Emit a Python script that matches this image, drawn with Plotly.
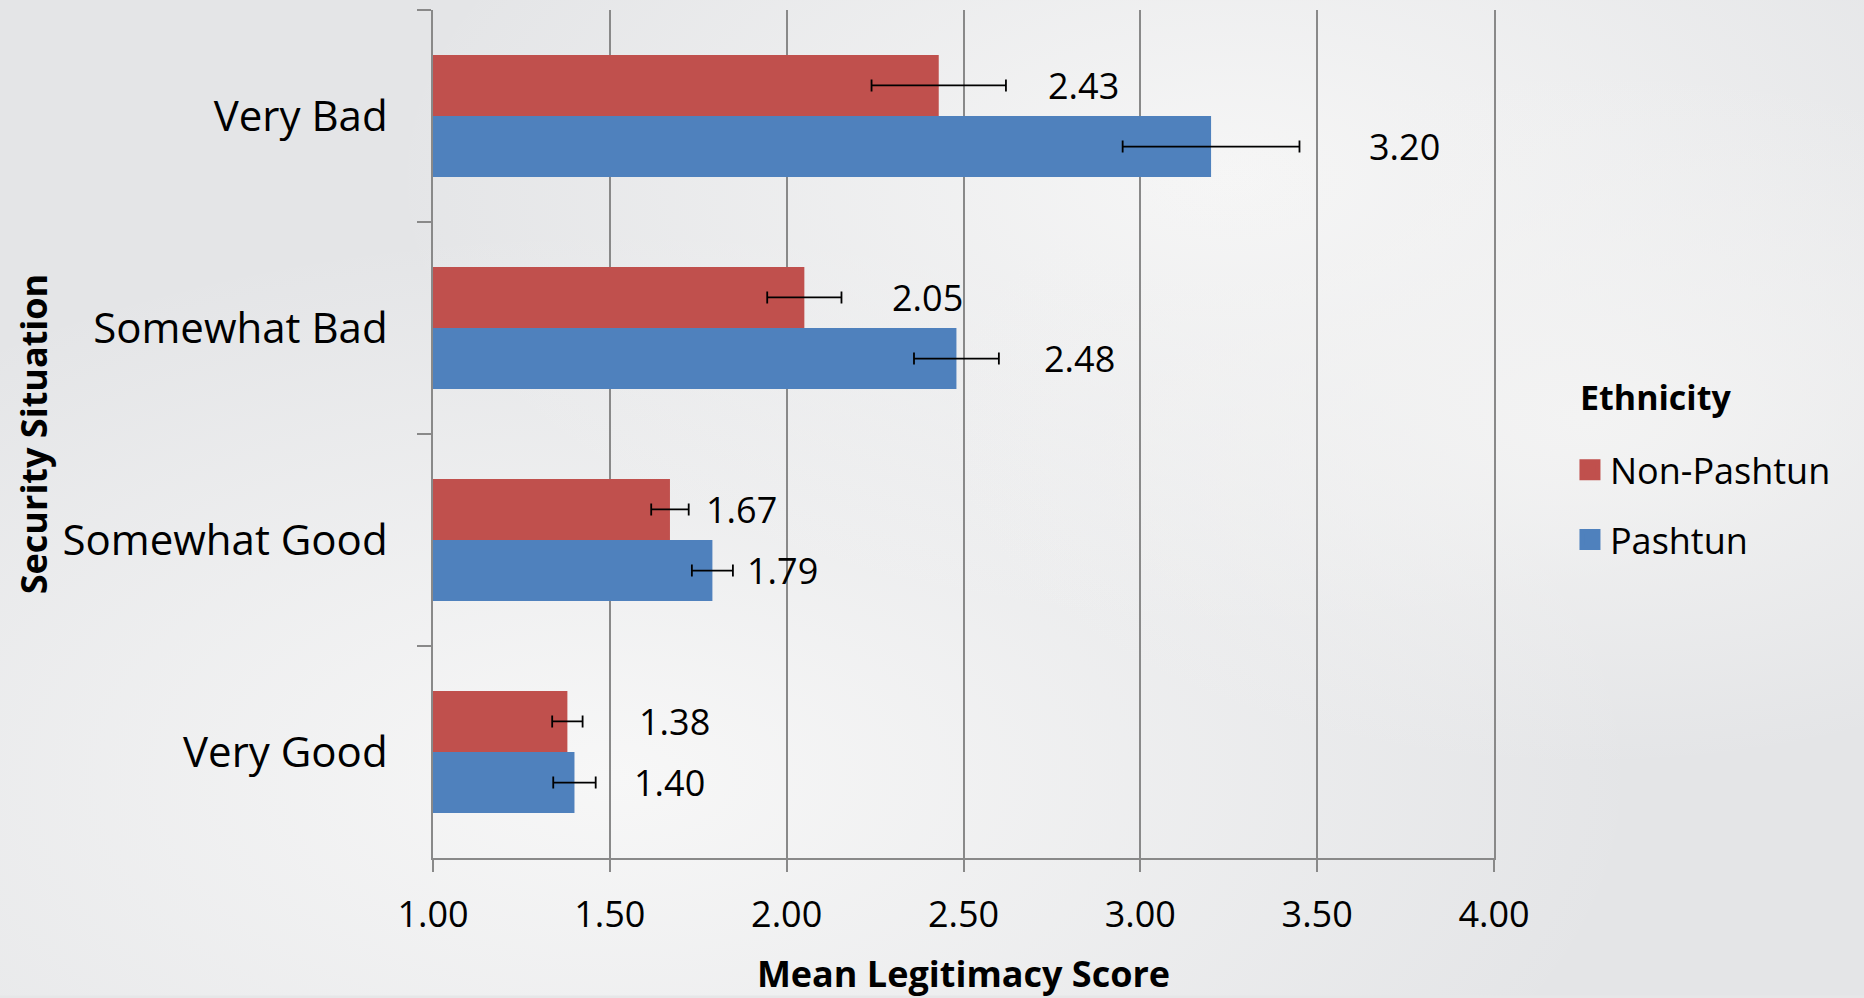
import base64
import plotly.graph_objects as go

# ---------------- data ----------------
categories = ["Very Bad", "Somewhat Bad", "Somewhat Good", "Very Good"]
series_names = ["Non-Pashtun", "Pashtun"]
non_pashtun = [2.43, 2.05, 1.67, 1.38]
pashtun = [3.20, 2.48, 1.79, 1.40]
non_pashtun_err = [0.19, 0.105, 0.053, 0.043]
pashtun_err = [0.25, 0.12, 0.058, 0.06]
x_ticks = [1.0, 1.5, 2.0, 2.5, 3.0, 3.5, 4.0]

# ---------------- style ----------------
W, H = 1864, 998
M = dict(l=433, r=370, t=10, b=138)
FONT = "Open Sans"
RED = "#C0504D"
BLUE = "#4F81BD"
AXIS = "#898989"
BARGAP = 0.424
# per-label horizontal nudges (px) to the right of the error-bar end
label_nudge = {
    "Non-Pashtun": [40, 49, 15, 54],
    "Pashtun": [68, 43, 12, 36],
}

pw = W - M["l"] - M["r"]
ph = H - M["t"] - M["b"]

svg = f"""<svg xmlns='http://www.w3.org/2000/svg' width='{W}' height='{H}' viewBox='0 0 {W} {H}' preserveAspectRatio='none'>
<defs>
<radialGradient id='g1' cx='0.33' cy='0.78' r='0.55' gradientUnits='objectBoundingBox'>
<stop offset='0' stop-color='#f7f7f7'/><stop offset='1' stop-color='#f7f7f7' stop-opacity='0'/>
</radialGradient>
<radialGradient id='g2' cx='0.66' cy='0.18' r='0.45' gradientUnits='objectBoundingBox'>
<stop offset='0' stop-color='#f6f6f6'/><stop offset='1' stop-color='#f6f6f6' stop-opacity='0'/>
</radialGradient>
<radialGradient id='g3' cx='0.85' cy='0.42' r='0.35' gradientUnits='objectBoundingBox'>
<stop offset='0' stop-color='#f3f3f3'/><stop offset='1' stop-color='#f3f3f3' stop-opacity='0'/>
</radialGradient>
</defs>
<rect width='{W}' height='{H}' fill='#e4e5e7'/>
<rect width='{W}' height='{H}' fill='url(#g1)'/>
<rect width='{W}' height='{H}' fill='url(#g2)'/>
<rect width='{W}' height='{H}' fill='url(#g3)'/>
</svg>"""
bg_uri = "data:image/svg+xml;base64," + base64.b64encode(svg.encode()).decode()

fig = go.Figure()

series = [
    (series_names[0], non_pashtun, non_pashtun_err, RED),
    (series_names[1], pashtun, pashtun_err, BLUE),
]
for name, vals, errs, color in series:
    fig.add_trace(go.Bar(
        name=name, y=categories, x=vals, orientation="h",
        marker=dict(color=color, line=dict(width=0)),
        error_x=dict(type="data", array=errs, symmetric=True,
                     color="black", thickness=1.8, width=6),
        showlegend=False, hoverinfo="x+y",
    ))
    # legend proxy (larger square swatch)
    fig.add_trace(go.Scatter(
        name=name, x=[None], y=[None], mode="markers",
        marker=dict(symbol="square", size=16, color=color,
                    line=dict(color=color, width=5)),
        legendgroup=name, showlegend=True,
    ))

# value labels, centred on each bar of the group
half = (1 - BARGAP) / 4  # centre offset of each bar in category units
for si, (name, vals, errs, color) in enumerate(series):
    sign = -1 if si == 0 else 1
    for ci, cat in enumerate(categories):
        fig.add_annotation(
            x=vals[ci] + errs[ci], y=ci + sign * half,
            xref="x", yref="y", text=f"{vals[ci]:.2f}",
            showarrow=False, xanchor="left", yanchor="middle",
            xshift=label_nudge[name][ci],
            font=dict(family=FONT, size=36, color="black"),
        )

# legend heading
fig.add_annotation(
    x=1.079, y=0.5435, xref="paper", yref="paper",
    text="Ethnicity", showarrow=False, xanchor="left", yanchor="middle",
    font=dict(family=FONT, size=34, color="black", weight="bold"),
)

fig.update_layout(
    width=W, height=H, margin=M,
    barmode="group", bargap=BARGAP, bargroupgap=0,
    paper_bgcolor="#e6e7e8", plot_bgcolor="rgba(0,0,0,0)",
    font=dict(family=FONT, color="black"),
    images=[dict(source=bg_uri, xref="paper", yref="paper",
                 x=-M["l"] / pw, y=1 + M["t"] / ph,
                 sizex=W / pw, sizey=H / ph,
                 xanchor="left", yanchor="top", sizing="stretch",
                 layer="below")],
    legend=dict(
        x=1.0716, xanchor="left", y=0.4165, yanchor="middle",
        bgcolor="rgba(0,0,0,0)", traceorder="grouped", tracegroupgap=20,
        font=dict(family=FONT, size=36, color="black"),
    ),
    xaxis=dict(
        range=[1, 4], tickvals=x_ticks, tickformat=".2f",
        showgrid=True, gridcolor=AXIS, gridwidth=1.75,
        showline=True, linecolor=AXIS, linewidth=2,
        ticks="outside", ticklen=12, tickcolor=AXIS, tickwidth=1.75,
        ticklabelstandoff=12, zeroline=False,
        tickfont=dict(family=FONT, size=36, color="black"),
        title=dict(text="Mean Legitimacy Score", standoff=25,
                   font=dict(family=FONT, size=36, color="black", weight="bold")),
    ),
    yaxis=dict(
        categoryorder="array", categoryarray=categories, autorange="reversed",
        showgrid=False, showline=True, linecolor=AXIS, linewidth=2,
        mirror=True,
        ticks="outside", ticklen=14, tickcolor=AXIS, tickwidth=1.75,
        tickson="boundaries", ticklabelstandoff=35, zeroline=False,
        tickfont=dict(family=FONT, size=42, color="black"),
        title=dict(text="Security Situation", standoff=4,
                   font=dict(family=FONT, size=36, color="black", weight="bold")),
    ),
)

fig.write_html("out.html", config={"displayModeBar": False},
               post_script="document.body.style.margin='0';")
